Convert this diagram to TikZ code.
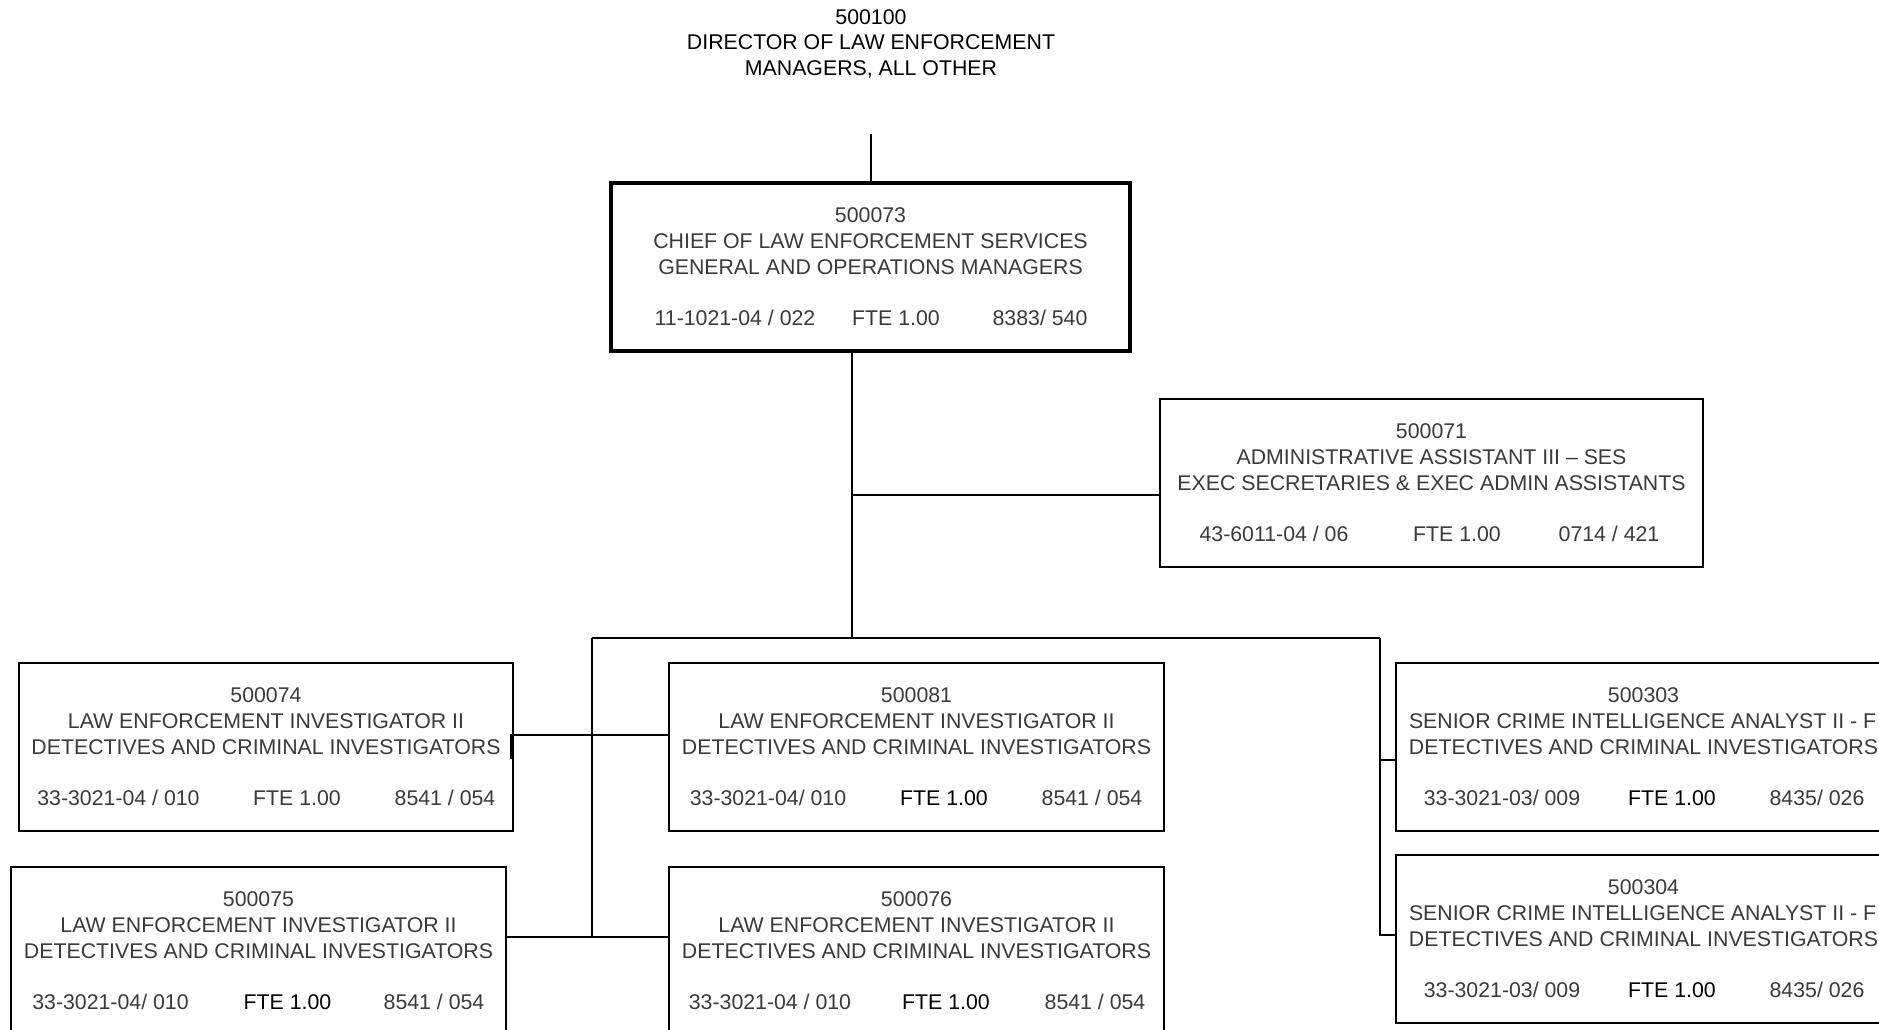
\documentclass[tikz,border=0pt]{standalone}
\usepackage{fontspec}
\setmainfont{Liberation Sans}
\usetikzlibrary{calc}

\definecolor{ink}{HTML}{3A3A3A}

\tikzset{
  jobbox/.style={draw=black, line width=1.5pt, rectangle, inner sep=0pt,
                 outer sep=0pt, minimum height=168pt},
  chiefbox/.style={line width=3.3pt},
  jobtext/.style={anchor=base, inner sep=0pt, outer sep=0pt, text=ink,
                  font=\fontsize{21.3}{25.5}\selectfont},
  titlepos/.style={},
  link/.style={draw=black, line width=1.6pt},
}

% box with position number, working title and class title
% #1 extra box options, #2 name, #3 centre x, #4 top y, #5 width,
% #6 position number, #7 working title, #8 class title
\newcommand\jobbox[8][]{%
  \node[jobbox, #1, minimum width=#5pt] (#2) at (#3,#4+84) {};
  \node[jobtext] (#2-id) at ($(#2.north)+(0,39.6)$) {#6};
  \node[jobtext, titlepos] (#2-title) at ($(#2.north)+(0,65.1)$) {#7};
  \node[jobtext] (#2-class) at ($(#2.north)+(0,91.1)$) {#8};
}

% bottom row of a box: class code, FTE and budget code
% #1 box, #2 code, #3 fte, #4 budget, #5-#7 x offsets, #8 fte colour
\newcommand\jobcodes[8]{%
  \node[jobtext] (#1-code) at ($(#1.north)+(#5,142.6)$) {#2};
  \node[jobtext, text=#8] (#1-fte) at ($(#1.north)+(#6,142.6)$) {#3};
  \node[jobtext] (#1-pay) at ($(#1.north)+(#7,142.6)$) {#4};
}

\begin{document}
\begin{tikzpicture}[x=1pt, y=-1pt]
  \useasboundingbox (0,0) rectangle (1879,1029);
  \fill[white] (0,0) rectangle (1879,1029);

  % reporting line above the chief
  \node[jobtext, text=black, anchor=north, align=center] (director) at (871,9.4)
    {500100\\DIRECTOR OF LAW ENFORCEMENT\\MANAGERS, ALL OTHER};

  % chief
  \jobbox[chiefbox]{chief}{870.5}{183}{519}{500073}
    {CHIEF OF LAW ENFORCEMENT SERVICES}{GENERAL AND OPERATIONS MANAGERS}
  \jobcodes{chief}{11-1021-04 / 022}{FTE 1.00}{8383/ 540}{-135.5}{25.5}{169.5}{ink}

  % staff position
  \jobbox{admin}{1431.5}{399}{543}{500071}
    {ADMINISTRATIVE ASSISTANT III – SES}{EXEC SECRETARIES \& EXEC ADMIN ASSISTANTS}
  \jobcodes{admin}{43-6011-04 / 06}{FTE 1.00}{0714 / 421}{-157.5}{25.5}{177.5}{ink}

  % investigators
  \jobbox{b74}{266}{663}{494}{500074}
    {LAW ENFORCEMENT INVESTIGATOR II}{DETECTIVES AND CRIMINAL INVESTIGATORS}
  \jobcodes{b74}{33-3021-04 / 010}{FTE 1.00}{8541 / 054}{-147.5}{31}{179}{ink}

  \jobbox{b75}{258.5}{867}{495}{500075}
    {LAW ENFORCEMENT INVESTIGATOR II}{DETECTIVES AND CRIMINAL INVESTIGATORS}
  \jobcodes{b75}{33-3021-04/ 010}{FTE 1.00}{8541 / 054}{-148}{29}{175.5}{black}

  \jobbox{b81}{916.5}{663}{495}{500081}
    {LAW ENFORCEMENT INVESTIGATOR II}{DETECTIVES AND CRIMINAL INVESTIGATORS}
  \jobcodes{b81}{33-3021-04/ 010}{FTE 1.00}{8541 / 054}{-148.5}{27.5}{175.5}{black}

  \jobbox{b76}{916.5}{867}{495}{500076}
    {LAW ENFORCEMENT INVESTIGATOR II}{DETECTIVES AND CRIMINAL INVESTIGATORS}
  \jobcodes{b76}{33-3021-04 / 010}{FTE 1.00}{8541 / 054}{-146.5}{29.5}{178.5}{black}

  % analysts
  \begin{scope}[titlepos/.style={anchor=base west, xshift=-234.5pt}]
    \jobbox{b303}{1643.5}{663}{495}{500303}
      {SENIOR CRIME INTELLIGENCE ANALYST II - F}{DETECTIVES AND CRIMINAL INVESTIGATORS}
    \jobcodes{b303}{33-3021-03/ 009}{FTE 1.00}{8435/ 026}{-141.5}{28.5}{173.5}{black}

    \jobbox{b304}{1643.5}{855}{495}{500304}
      {SENIOR CRIME INTELLIGENCE ANALYST II - F}{DETECTIVES AND CRIMINAL INVESTIGATORS}
    \jobcodes{b304}{33-3021-03/ 009}{FTE 1.00}{8435/ 026}{-141.5}{28.5}{173.5}{black}
  \end{scope}

  % connectors
  \coordinate (stubtop) at (871,134);
  \draw[link] (stubtop) -- (stubtop |- chief.north);

  \coordinate (trunk) at (852,638);
  \coordinate (adminjoin) at (852,495);
  \draw[link] (chief.south -| trunk) -- (trunk);
  \draw[link] (adminjoin) -- (adminjoin -| admin.west);

  \coordinate (busL) at (592,638);
  \coordinate (busR) at (1380,638);
  \draw[link] (busL) -- (busR);

  \coordinate (j74) at (592,735);
  \coordinate (j75) at (592,937);
  \draw[link] (busL) -- (j75);
  \draw[link] (b81.west |- j74) -- (b74.east |- j74) -- ++(-2,0) -- ++(0,24);
  \draw[link] (b76.west |- j75) -- (b75.east |- j75);

  \coordinate (j303) at (1380,760);
  \coordinate (j304) at (1380,935);
  \draw[link] (busR) -- (j304) -- (j304 -| b304.west);
  \draw[link] (j303) -- (j303 -| b303.west);
\end{tikzpicture}
\end{document}
